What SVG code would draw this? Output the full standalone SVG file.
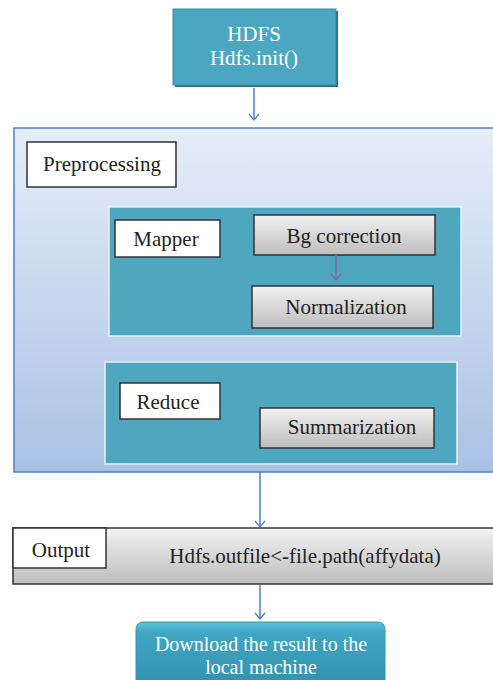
<svg xmlns="http://www.w3.org/2000/svg" width="493" height="680" viewBox="0 0 493 680">
<defs>
<linearGradient id="gBlue" x1="0" y1="0" x2="0" y2="1">
<stop offset="0" stop-color="#e6edf8"/>
<stop offset="1" stop-color="#a9c1e5"/>
</linearGradient>
<linearGradient id="gGray" x1="0" y1="0" x2="0" y2="1">
<stop offset="0" stop-color="#f2f2f2"/>
<stop offset="1" stop-color="#bdbdbd"/>
</linearGradient>
<linearGradient id="gTeal" x1="0" y1="0" x2="0" y2="1">
<stop offset="0" stop-color="#5cc0d8"/>
<stop offset="0.15" stop-color="#3fa6c4"/>
<stop offset="1" stop-color="#2f8fad"/>
</linearGradient>
<marker id="ah" viewBox="0 0 12 12" refX="10" refY="6" markerWidth="12" markerHeight="12" markerUnits="userSpaceOnUse" orient="auto">
<path d="M4,1 L10,6 L4,11" fill="none" stroke="#4f7fbf" stroke-width="1.3"/>
</marker>
<marker id="ahp" viewBox="0 0 12 12" refX="10" refY="6" markerWidth="12" markerHeight="12" markerUnits="userSpaceOnUse" orient="auto">
<path d="M4,1 L10,6 L4,11" fill="none" stroke="#8a63a8" stroke-width="1.3"/>
</marker>
</defs>
<style>
text{font-family:"Liberation Serif","DejaVu Serif","Times New Roman",serif;text-anchor:middle}
.dk{fill:#222;font-size:21px}
.wt{fill:#fff;font-size:21px}
.wt2{fill:#fff;font-size:20px}
.lbl{fill:#fff;stroke:#333;stroke-width:1.5}
.gray{fill:url(#gGray);stroke:#333;stroke-width:1.5}
.teal{fill:#4ea6bf;stroke:#e8f2f8;stroke-width:1.5}
.conn{stroke:#4f7fbf;stroke-width:1.5;fill:none}
</style>

<g id="hdfs">
<rect x="175" y="11" width="163" height="76" fill="#2f6d80"/>
<rect x="173" y="9" width="163" height="76" fill="#4ba7c1" stroke="#3b8aa1" stroke-width="1"/>
<text class="wt" x="254" y="41">HDFS</text>
<text class="wt" x="254" y="65">Hdfs.init()</text>
</g>

<g id="preprocessing">
<rect x="14" y="128" width="490" height="344" fill="url(#gBlue)" stroke="#4f81bd" stroke-width="1.5"/>
<rect class="lbl" x="27" y="142" width="149" height="45"/>
<text class="dk" x="102" y="171">Preprocessing</text>
</g>

<g id="mapper">
<rect class="teal" x="109" y="207" width="352" height="129"/>
<rect class="lbl" x="115" y="220" width="105" height="37"/>
<text class="dk" x="166" y="246">Mapper</text>
</g>

<g id="bgcorrection">
<rect class="gray" x="254" y="215" width="181" height="40"/>
<text class="dk" x="344" y="243">Bg correction</text>
</g>

<g id="normalization">
<rect class="gray" x="252" y="286" width="181" height="42"/>
<text class="dk" x="346" y="314">Normalization</text>
</g>

<g id="reduce">
<rect class="teal" x="105" y="362" width="352" height="102"/>
<rect class="lbl" x="120" y="383" width="100" height="36"/>
<text class="dk" x="168" y="409">Reduce</text>
</g>

<g id="summarization">
<rect class="gray" x="260" y="408" width="174" height="40"/>
<text class="dk" x="352" y="434">Summarization</text>
</g>

<g id="output">
<rect class="gray" x="13" y="528" width="490" height="56"/>
<rect class="lbl" x="13" y="528" width="93" height="40"/>
<text class="dk" x="61" y="557">Output</text>
<text class="dk" x="305" y="563">Hdfs.outfile&lt;-file.path(affydata)</text>
</g>

<g id="download">
<rect x="136" y="622" width="249" height="70" rx="7" fill="url(#gTeal)" stroke="#3b93ae" stroke-width="1"/>
<text class="wt2" x="261" y="651">Download the result to the</text>
<text class="wt2" x="261" y="674">local machine</text>
</g>

<g id="connectors">
<line class="conn" x1="254" y1="88" x2="254" y2="120" marker-end="url(#ah)"/>
<line x1="336" y1="255" x2="336" y2="280" stroke="#8a63a8" stroke-width="1.5" marker-end="url(#ahp)"/>
<line class="conn" x1="260" y1="472" x2="260" y2="527" marker-end="url(#ah)"/>
<line class="conn" x1="260" y1="585" x2="260" y2="619" marker-end="url(#ah)"/>
</g>
</svg>
